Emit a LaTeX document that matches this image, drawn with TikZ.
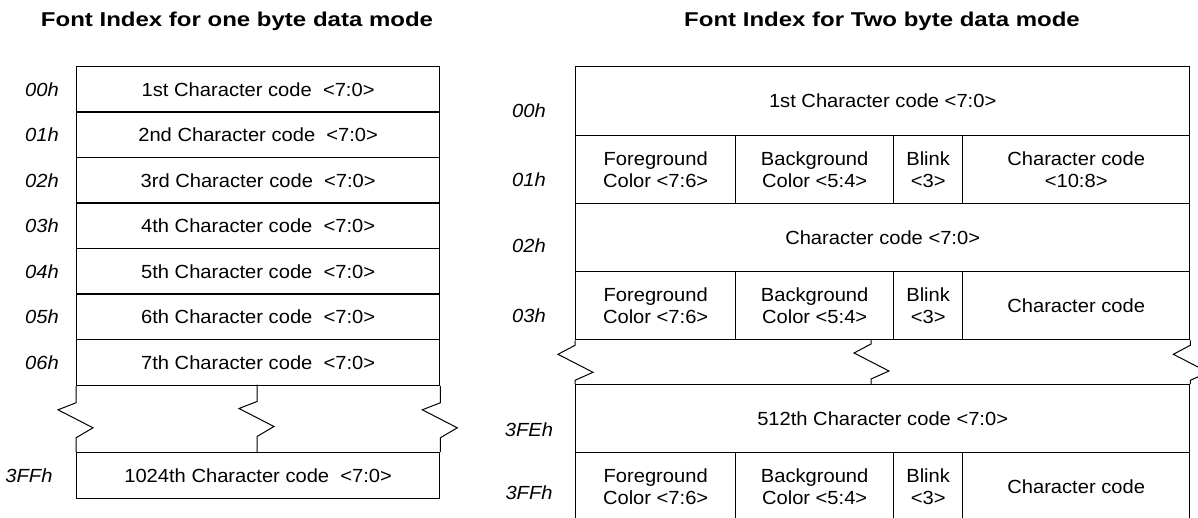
\documentclass[tikz,border=0pt]{standalone}
\usepackage{fontspec}
\setmainfont{Liberation Sans}[FakeStretch=1.06]
\newfontfamily\ttlfont{Liberation Sans}[FakeStretch=1.2]
\begin{document}
\begin{tikzpicture}[x=1pt,y=-1pt,
  cell/.style={draw, line width=1.3pt, anchor=north west, inner sep=0pt, align=center,
    font=\fontsize{19}{22}\selectfont},
  lbl/.style={font=\fontsize{19}{22}\selectfont\itshape},
  ttl/.style={font=\ttlfont\fontsize{20}{24}\selectfont\bfseries},
  zz/.style={line width=1pt}]
\useasboundingbox (0,0) rectangle (1198,518);
\clip (0,0) rectangle (1198,518);
% titles
\node[ttl] (T1) at (237,21) {Font Index for one byte data mode};
\node[ttl] (T2) at (882,21) {Font Index for Two byte data mode};
% left table
\tikzset{lrow/.style={cell, minimum width=363pt, minimum height=45.5pt}}
\node[lrow] (L0) at (76,66)    {1st Character code~~<7:0>};
\node[lrow] (L1) at (76,111.5) {2nd Character code~~<7:0>};
\node[lrow] (L2) at (76,157)   {3rd Character code~~<7:0>};
\node[lrow] (L3) at (76,202.5) {4th Character code~~<7:0>};
\node[lrow] (L4) at (76,248)   {5th Character code~~<7:0>};
\node[lrow] (L5) at (76,293.5) {6th Character code~~<7:0>};
\node[lrow] (L6) at (76,339)   {7th Character code~~<7:0>};
\node[lrow] (L7) at (76,452)   {1024th Character code~~<7:0>};
\node[lbl] (a0) at ([xshift=-34pt]L0.west) {00h};
\node[lbl] (a1) at ([xshift=-34pt]L1.west) {01h};
\node[lbl] (a2) at ([xshift=-34pt]L2.west) {02h};
\node[lbl] (a3) at ([xshift=-34pt]L3.west) {03h};
\node[lbl] (a4) at ([xshift=-34pt]L4.west) {04h};
\node[lbl] (a5) at ([xshift=-34pt]L5.west) {05h};
\node[lbl] (a6) at ([xshift=-34pt]L6.west) {06h};
\node[lbl] (a7) at ([xshift=-47pt]L7.west) {3FFh};
\coordinate (lm1) at (257,384.5);
\coordinate (lm2) at (257,452);
\draw[zz] (L6.south west) -- ++(0,17) -- ++(-18,7) -- ++(35,18) -- ++(-17,10) -- (L7.north west);
\draw[zz] (lm1) -- ++(0,17) -- ++(-18,7) -- ++(35,18) -- ++(-17,10) -- (lm2);
\draw[zz] (L6.south east) -- ++(0,17) -- ++(-18,7) -- ++(35,18) -- ++(-17,10) -- (L7.north east);
% right table
\tikzset{wide/.style={cell, minimum width=614pt, minimum height=68pt},
  ca/.style={cell, minimum width=160pt, minimum height=68pt},
  cb/.style={cell, minimum width=158pt, minimum height=68pt},
  cc/.style={cell, minimum width=69pt, minimum height=68pt},
  cd/.style={cell, minimum width=227pt, minimum height=68pt}}
\node[wide, minimum height=69pt] (R0) at (575,66) {1st Character code <7:0>};
\node[ca] (R1a) at (575,135) {Foreground\\Color <7:6>};
\node[cb] (R1b) at (735,135) {Background\\Color <5:4>};
\node[cc] (R1c) at (893,135) {Blink\\<3>};
\node[cd] (R1d) at (962,135) {Character code\\<10:8>};
\node[wide] (R2) at (575,203) {Character code <7:0>};
\node[ca] (R3a) at (575,271) {Foreground\\Color <7:6>};
\node[cb] (R3b) at (735,271) {Background\\Color <5:4>};
\node[cc] (R3c) at (893,271) {Blink\\<3>};
\node[cd] (R3d) at (962,271) {Character code};
\node[wide] (R4) at (575,384) {512th Character code <7:0>};
\node[ca] (R5a) at (575,452) {Foreground\\Color <7:6>};
\node[cb] (R5b) at (735,452) {Background\\Color <5:4>};
\node[cc] (R5c) at (893,452) {Blink\\<3>};
\node[cd] (R5d) at (962,452) {Character code};
\node[lbl] (b0) at (529,111) {00h};
\node[lbl] (b1) at (529,180) {01h};
\node[lbl] (b2) at (529,246) {02h};
\node[lbl] (b3) at (529,316) {03h};
\node[lbl] (b4) at (529,430) {3FEh};
\node[lbl] (b5) at (529,493) {3FFh};
\coordinate (rm1) at (871,339);
\coordinate (rm2) at (871,384);
\draw[zz] (R3a.south west) -- ++(0,5) -- ++(-17,9) -- ++(35,18) -- ++(-18,8) -- (R4.north west);
\draw[zz] (rm1) -- ++(0,5) -- ++(-17,9) -- ++(35,18) -- ++(-18,8) -- (rm2);
\draw[zz] (R3d.south east) -- ++(0,5) -- ++(-17,9) -- ++(35,18) -- ++(-18,8) -- (R4.north east);
\end{tikzpicture}
\end{document}
